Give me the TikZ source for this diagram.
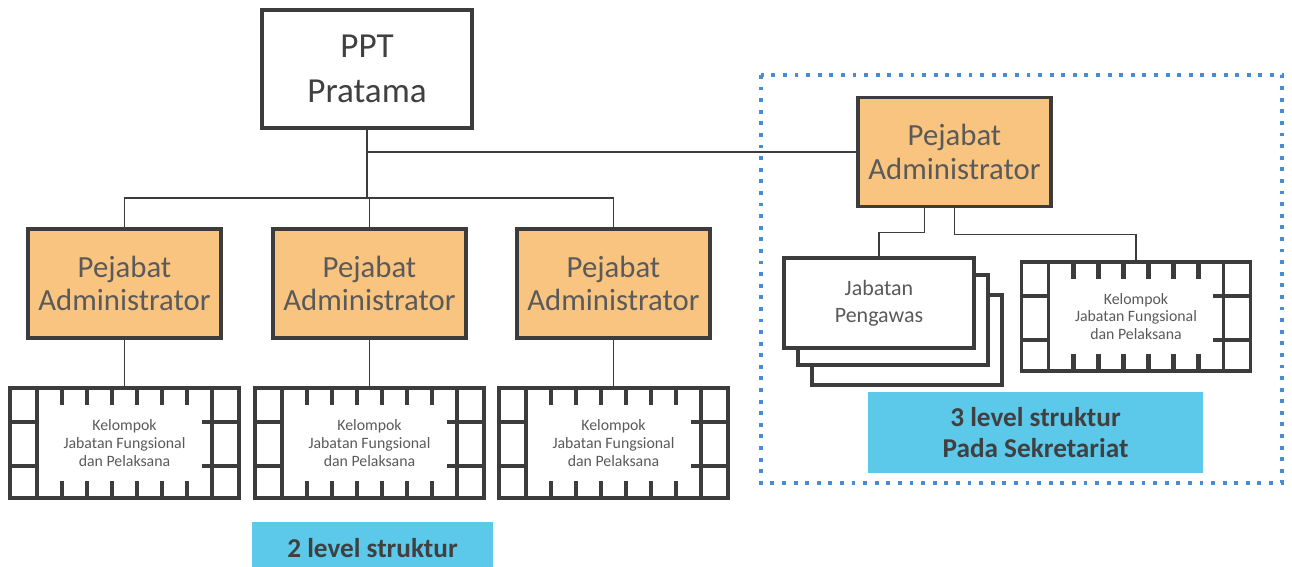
\documentclass[tikz,border=0pt]{standalone}
\usepackage{fontspec}
\setmainfont{Carlito}
\usetikzlibrary{positioning,calc}
\definecolor{oranye}{RGB}{248,196,128}
\definecolor{garis}{RGB}{60,60,60}
\definecolor{teks}{RGB}{90,90,90}
\definecolor{biru}{RGB}{92,200,234}
\definecolor{titik}{RGB}{70,140,215}
\tikzset{
  basic/.style    = {draw=garis, line width=2.2pt, rectangle, align=center,
                     outer sep=0pt, text=teks},
  root/.style     = {basic, fill=white, minimum width=4.2cm, minimum height=2.36cm,
                     font=\fontsize{20}{25.5}\selectfont, text=black!75},
  pejabat/.style  = {basic, fill=oranye, minimum width=3.86cm, minimum height=2.18cm,
                     font=\fontsize{17.5}{19}\selectfont},
  kelompok/.style = {basic, fill=white, minimum width=4.58cm, minimum height=2.2cm,
                     font=\fontsize{9}{10.2}\selectfont},
  pengawas/.style = {basic, fill=white, minimum width=3.8cm, minimum height=1.8cm,
                     font=\fontsize{12.5}{15.3}\selectfont},
  keterangan/.style = {rectangle, fill=biru, align=center, text=black!75,
                     font=\bfseries\fontsize{15.5}{18}\selectfont},
  conn/.style     = {draw=garis, line width=1pt},
  deco/.style     = {draw=garis, line width=2.2pt},
  tick/.style     = {draw=garis, line width=2.8pt}
}

\begin{document}
\begin{tikzpicture}[x=0.02cm, y=-0.02cm]
\useasboundingbox (0,0) rectangle (1292,567);

% bingkai sekretariat
\draw[titik, line width=2.2pt, dash pattern=on 2.2pt off 4.4pt] (761,75) rectangle (1282,483);

% puncak
\node[root] (ppt) at (367,69) {PPT\\Pratama};

% level pertama
\node[pejabat] (pa1) at (124.5,283.5) {Pejabat\\Administrator};
\node[pejabat] (pa2) at (369.5,283.5) {Pejabat\\Administrator};
\node[pejabat] (pa3) at (613.5,283.5) {Pejabat\\Administrator};
\node[pejabat] (pa4) at (954.5,152) {Pejabat\\Administrator};

% kelompok jabatan fungsional
\foreach \i in {1,2,3}
  \node[kelompok, below=1cm of pa\i] (k\i) {Kelompok\\Jabatan Fungsional\\dan Pelaksana};
\node[kelompok, minimum height=2.18cm] (k4) at (1136,316.5) {Kelompok\\Jabatan Fungsional\\dan Pelaksana};

\foreach \k in {k1,k2,k3,k4}{
  \draw[deco] ($(\k.north west)+(27,0)$) -- ($(\k.south west)+(27,0)$);
  \draw[deco] ($(\k.north east)+(-27,0)$) -- ($(\k.south east)+(-27,0)$);
  \foreach \h in {34,78}{
    \draw[deco] ($(\k.north west)+(0,\h)$) -- ++(27,0);
    \draw[deco] ($(\k.north east)+(0,\h)$) -- ++(-37,0);
  }
  \foreach \t in {-62.5,-37.5,...,62.5}{
    \draw[tick] ($(\k.north)+(\t,0)$) -- ++(0,17);
    \draw[tick] ($(\k.south)+(\t,0)$) -- ++(0,-17);
  }
}

% jabatan pengawas (bertumpuk)
\node[pengawas] (jp3) at (907,340) {};
\node[pengawas] (jp2) at (893,320) {};
\node[pengawas] (jp) at (879,303) {Jabatan\\Pengawas};

% keterangan
\node[keterangan, minimum width=6.7cm, minimum height=1.62cm] (lvl3) at (1035.5,432.5)
  {3 level struktur\\Pada Sekretariat};
\node[keterangan, minimum width=4.82cm, minimum height=1.04cm] (lvl2) at (372.5,548)
  {2 level struktur};

% garis penghubung
\draw[conn] (ppt.south) -- ++(0,70) coordinate (hub);
\foreach \i in {1,2,3}
  \draw[conn] (hub) -| (pa\i.north);
\draw[conn] (ppt.south |- pa4.west) -- (pa4.west);

\foreach \i in {1,2,3}
  \draw[conn] (pa\i.south) -- (pa\i.south |- k\i.north);

\draw[conn] ($(pa4.south)+(-30,0)$) -- ++(0,26) -| (jp.north);
\draw[conn] (pa4.south) -- ++(0,28) -| (k4.north);
\end{tikzpicture}
\end{document}
